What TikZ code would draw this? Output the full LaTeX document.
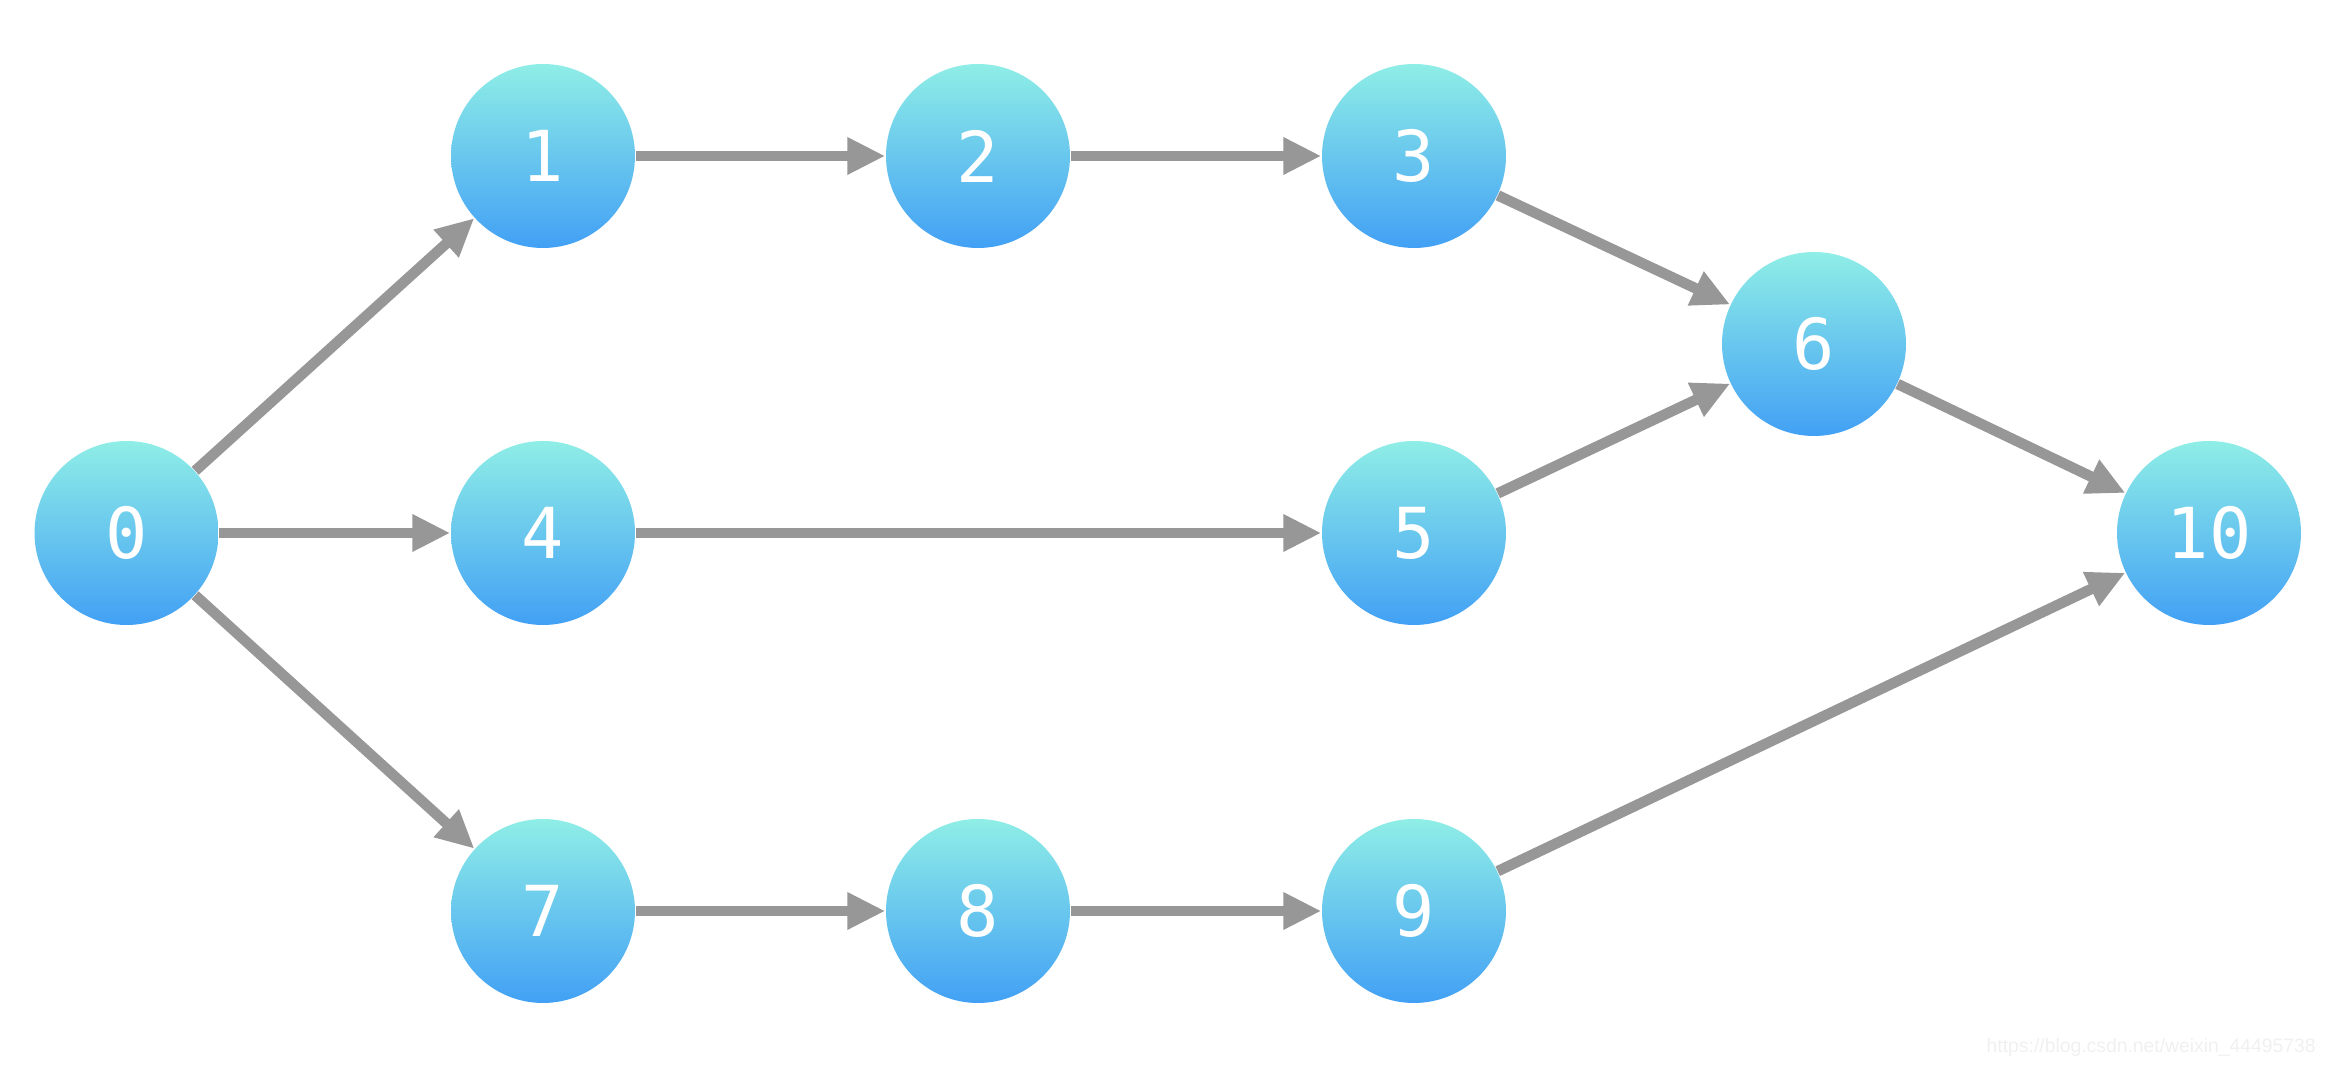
\documentclass[tikz,border=0pt]{standalone}
\usepackage{fontspec}
\setmonofont{DejaVu Sans Mono}
\newfontfamily\markfont{Liberation Sans}
\usetikzlibrary{arrows.meta}
\definecolor{nodetop}{HTML}{8FEEE6}
\definecolor{nodebot}{HTML}{42A0F5}
\definecolor{edgegray}{HTML}{979797}

\begin{document}
\begin{tikzpicture}[
		vert/.style={circle,minimum size=1.84cm,inner sep=0pt,
			top color=nodetop,bottom color=nodebot,text=white,
			font=\ttfamily\fontsize{20}{20}\selectfont},
		edge/.style={draw=edgegray,line width=3pt,
			-{Triangle[length=0.38cm,width=0.35cm]}}]
		\useasboundingbox (0,0) rectangle (23.34,10.74);
		\node[vert](v0) at (1.265,5.41){0};
		\node[vert](v1) at (5.43,9.18){1};
		\node[vert](v2) at (9.78,9.18){2};
		\node[vert](v3) at (14.14,9.18){3};
		\node[vert](v4) at (5.43,5.41){4};
		\node[vert](v5) at (14.14,5.41){5};
		\node[vert](v6) at (18.14,7.30){6};
		\node[vert](v7) at (5.43,1.63){7};
		\node[vert](v8) at (9.78,1.63){8};
		\node[vert](v9) at (14.14,1.63){9};
		\node[vert](v10) at (22.09,5.41){10};
		\foreach \a/\b in {0/1,1/2,2/3,3/6,0/4,4/5,5/6,6/10,0/7,7/8,8/9,9/10}
			\draw[edge] (v\a) -- (v\b);
		\node[font=\markfont\fontsize{5.5}{6}\selectfont,text=gray!12,anchor=south east]
			(mark) at (23.28,0.05){https://blog.csdn.net/weixin\_44495738};
	\end{tikzpicture}
\end{document}
